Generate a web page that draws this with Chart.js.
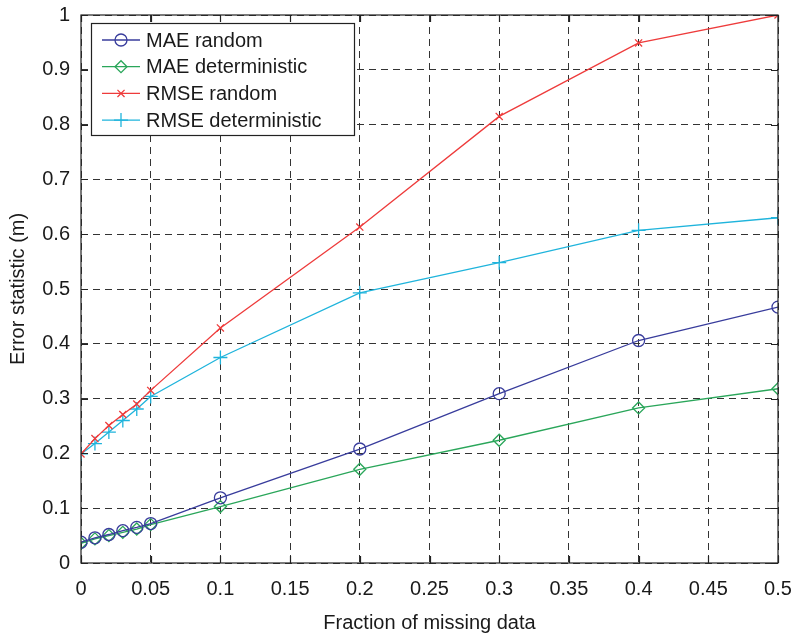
<!DOCTYPE html>
<html>
<head>
<meta charset="utf-8">
<script src="https://cdn.jsdelivr.net/npm/chart.js@4/dist/chart.umd.min.js"></script>
<style>
  html, body { margin: 0; padding: 0; background: #fff; }
  canvas { display: block; }
</style>
</head>
<body>
<canvas id="myChart" width="791" height="635"></canvas>
<script>
// values
const fractions = [0, 0.01, 0.02, 0.03, 0.04, 0.05, 0.1, 0.2, 0.3, 0.4, 0.5];
const maeRandom = [0.038, 0.046, 0.052, 0.059, 0.065, 0.072, 0.119, 0.208, 0.309, 0.406, 0.467];
const maeDeterministic = [0.036, 0.044, 0.050, 0.056, 0.062, 0.070, 0.103, 0.171, 0.224, 0.283, 0.318];
const rmseRandom = [0.199, 0.227, 0.251, 0.271, 0.290, 0.315, 0.429, 0.613, 0.815, 0.949, 1.0];
const rmseDeterministic = [0.199, 0.218, 0.239, 0.260, 0.281, 0.304, 0.375, 0.493, 0.548, 0.607, 0.630];
const seriesNames = ["MAE random", "MAE deterministic", "RMSE random", "RMSE deterministic"];

const FONT = "'Liberation Sans', Arial, Helvetica, sans-serif";

function toPoints(values) {
  return values.map((v, i) => ({ x: fractions[i], y: v }));
}

function makeDataset(label, values, color, style, radius) {
  return {
    label: label,
    data: toPoints(values),
    showLine: true,
    borderColor: color,
    backgroundColor: "rgba(0,0,0,0)",
    borderWidth: 1.3,
    pointStyle: style,
    pointRadius: radius,
    pointBorderWidth: 1.3,
    pointBorderColor: color,
    pointBackgroundColor: "rgba(0,0,0,0)",
  };
}

// draws the box, inward tick marks and the legend, matlab style
const framePlugin = {
  id: "frame",
  afterDraw(chart) {
    const ctx = chart.ctx;
    const a = chart.chartArea;
    const xs = chart.scales.x;
    const ys = chart.scales.y;
    ctx.save();
    ctx.strokeStyle = "#222";
    ctx.lineWidth = 1.2;
    ctx.strokeRect(a.left, a.top, a.right - a.left, a.bottom - a.top);
    ctx.beginPath();
    xs.ticks.forEach((t) => {
      const px = Math.round(xs.getPixelForValue(t.value)) + 0.5;
      ctx.moveTo(px, a.bottom); ctx.lineTo(px, a.bottom - 7);
      ctx.moveTo(px, a.top); ctx.lineTo(px, a.top + 7);
    });
    ys.ticks.forEach((t) => {
      const py = Math.round(ys.getPixelForValue(t.value)) + 0.5;
      ctx.moveTo(a.left, py); ctx.lineTo(a.left + 7, py);
      ctx.moveTo(a.right, py); ctx.lineTo(a.right - 7, py);
    });
    ctx.stroke();

    // legend
    const bx = 91.5, by = 23.5, bw = 263, bh = 112;
    ctx.fillStyle = "#fff";
    ctx.fillRect(bx, by, bw, bh);
    ctx.strokeStyle = "#222";
    ctx.lineWidth = 1.2;
    ctx.strokeRect(bx, by, bw, bh);
    chart.data.datasets.forEach((ds, i) => {
      const cy = 40 + i * 26.7;
      ctx.strokeStyle = ds.borderColor;
      ctx.lineWidth = ds.borderWidth;
      ctx.beginPath();
      ctx.moveTo(102, cy); ctx.lineTo(140, cy);
      ctx.stroke();
      ctx.fillStyle = "rgba(0,0,0,0)";
      Chart.helpers.drawPoint(ctx, {
        pointStyle: ds.pointStyle,
        radius: ds.pointRadius,
        rotation: 0,
        borderWidth: ds.pointBorderWidth,
      }, 121, cy);
      ctx.fillStyle = "#1a1a1a";
      ctx.font = "20px " + FONT;
      ctx.textBaseline = "middle";
      ctx.textAlign = "left";
      ctx.fillText(ds.label, 146, cy + 1);
    });
    ctx.restore();
  },
};

const ctx = document.getElementById("myChart").getContext("2d");
new Chart(ctx, {
  type: "scatter",
  data: {
    datasets: [
      makeDataset(seriesNames[0], maeRandom, "#383c9c", "circle", 6),
      makeDataset(seriesNames[1], maeDeterministic, "#2aa65a", "rectRot", 6),
      makeDataset(seriesNames[2], rmseRandom, "#ee3b3b", "crossRot", 5),
      makeDataset(seriesNames[3], rmseDeterministic, "#1fb4dc", "cross", 7),
    ],
  },
  options: {
    responsive: false,
    animation: false,
    layout: { padding: { top: 15, right: 13, left: 0, bottom: 0 } },
    plugins: {
      legend: { display: false },
      tooltip: { enabled: false },
    },
    scales: {
      x: {
        type: "linear",
        min: 0,
        max: 0.5,
        ticks: {
          stepSize: 0.05,
          padding: 14,
          color: "#1a1a1a",
          font: { family: FONT, size: 20 },
          callback: (v) => String(Math.round(v * 100) / 100),
        },
        grid: { color: "#333", lineWidth: 1, drawTicks: false },
        border: { display: false, dash: [7, 5] },
        title: {
          display: true,
          text: "Fraction of missing data",
          color: "#1a1a1a",
          font: { family: FONT, size: 20 },
          padding: { top: 4, bottom: 0 },
        },
        afterFit: (s) => { s.height = 72; s.paddingLeft = 0; s.paddingRight = 0; },
      },
      y: {
        type: "linear",
        min: 0,
        max: 1,
        ticks: {
          stepSize: 0.1,
          padding: 11,
          color: "#1a1a1a",
          font: { family: FONT, size: 20 },
          callback: (v) => String(Math.round(v * 10) / 10),
        },
        grid: { color: "#333", lineWidth: 1, drawTicks: false },
        border: { display: false, dash: [7, 5] },
        title: {
          display: true,
          text: "Error statistic (m)",
          color: "#1a1a1a",
          font: { family: FONT, size: 20 },
          padding: { top: 6, bottom: 0 },
        },
        afterFit: (s) => { s.width = 81; s.paddingTop = 0; s.paddingBottom = 0; },
      },
    },
  },
  plugins: [framePlugin],
});
</script>
</body>
</html>
